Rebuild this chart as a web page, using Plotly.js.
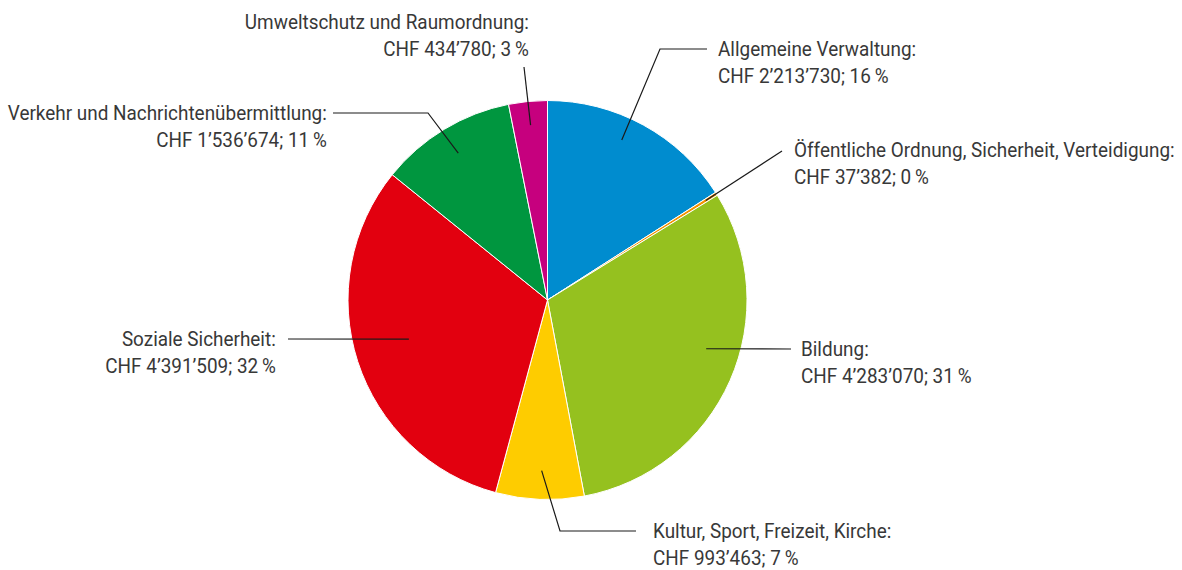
<!DOCTYPE html>
<html>
<head>
<meta charset="utf-8">
<script src="https://cdn.plot.ly/plotly-3.0.1.min.js"></script>
<style>
html, body { margin: 0; padding: 0; background: #ffffff; }
#chart { width: 1182px; height: 570px; }
</style>
</head>
<body>
<div id="chart"></div>
<script>
// ---- data ----
const categories = [
  "Allgemeine Verwaltung",
  "Öffentliche Ordnung, Sicherheit, Verteidigung",
  "Bildung",
  "Kultur, Sport, Freizeit, Kirche",
  "Soziale Sicherheit",
  "Verkehr und Nachrichtenübermittlung",
  "Umweltschutz und Raumordnung"
];
const values = [2213730, 37382, 4283070, 993463, 4391509, 1536674, 434780];
const currency = "CHF";
const sliceColors = ["#008ccf", "#f39200", "#95c11f", "#fecc00", "#e2000f", "#00963f", "#c6007e"];

// ---- label layout (pixel frame 1182 x 570) ----
// t: position along slice (0..1), f: fraction of radius for leader start
const labelLayout = [
  {t: 0.434, f: 0.884, bend: [660, 49],  end: [707, 49],  tx: 717, ty: 49,  side: "left"},
  {t: 0.5,   f: 0.937, bend: null,       end: [782, 151], tx: 793, ty: 150, side: "left"},
  {t: 0.439, f: 0.832, bend: null,       end: [791, 349], tx: 800, ty: 349, side: "left"},
  {t: 0.49,  f: 0.856, bend: [560, 531], end: [636, 531], tx: 652, ty: 531, side: "left"},
  {t: 0.52,  f: 0.722, bend: null,       end: [288, 339], tx: 277, ty: 339, side: "right"},
  {t: 0.497, f: 0.861, bend: [428, 113], end: [333, 113], tx: 328, ty: 113, side: "right"},
  {t: 0.51,  f: 0.881, bend: null,       end: [524, 67],  tx: 530, ty: 22,  side: "right"}
];

const W = 1182, H = 570;
const pieCx = 547.5, pieCy = 300, pieR = 199.5;
const lineGap = 27;
const textColor = "#383838";
const family = "Roboto";
const fontSize = 20.5;   // gives ~15px cap height like the reference

// ---- horizontal condensing factor so widths match the reference ----
const ctx = document.createElement("canvas").getContext("2d");
function measure(font, txt) { ctx.font = font; return ctx.measureText(txt).width; }
const widthTargets = [
  ["Öffentliche Ordnung, Sicherheit, Verteidigung:", 385],
  ["Verkehr und Nachrichtenübermittlung:", 318],
  ["Umweltschutz und Raumordnung:", 282],
  ["Kultur, Sport, Freizeit, Kirche:", 243],
  ["Allgemeine Verwaltung:", 199],
  ["Soziale Sicherheit:", 149]
];
const ratios = widthTargets.map(([s, w]) => w / measure(fontSize + 'px "' + family + '"', s)).sort((a, b) => a - b);
let squeeze = (ratios[2] + ratios[3]) / 2;
if (!isFinite(squeeze) || squeeze <= 0.5 || squeeze > 1.2) squeeze = 0.8;

// ---- helpers ----
const total = values.reduce((a, b) => a + b, 0);
function fmt(n) { return String(n).replace(/\B(?=(\d{3})+(?!\d))/g, "\u2019"); }
function px(x) { return x / W; }
function py(y) { return 1 - y / H; }

const shapes = [];
const annotations = [];
const annoSide = [];
let cum = 0;
values.forEach((v, i) => {
  const L = labelLayout[i];
  const theta = 2 * Math.PI * (cum + L.t * v) / total;
  cum += v;
  const sx = pieCx + L.f * pieR * Math.sin(theta);
  const sy = pieCy - L.f * pieR * Math.cos(theta);
  const pts = [[sx, sy]];
  if (L.bend) pts.push(L.bend);
  pts.push(L.end);
  const path = pts.map((p, k) => (k ? "L" : "M") + px(p[0]).toFixed(5) + "," + py(p[1]).toFixed(5)).join(" ");
  shapes.push({type: "path", xref: "paper", yref: "paper", path: path,
    line: {color: "#1a1a1a", width: 1.2}});
  const pct = Math.round(v / total * 100);
  const lines = [categories[i] + ":", currency + " " + fmt(v) + "; " + pct + "\u2009%"];
  lines.forEach((txt, k) => {
    annoSide.push(L.side);
    annotations.push({
      xref: "paper", yref: "paper",
      x: px(L.tx), y: py(L.ty + k * lineGap),
      xanchor: L.side, yanchor: "middle",
      align: L.side, showarrow: false, borderpad: 0,
      text: txt,
      font: {family: '"' + family + '", sans-serif', size: fontSize, color: textColor}
    });
  });
});

const data = [{
  type: "pie",
  labels: categories,
  values: values,
  sort: false,
  direction: "clockwise",
  rotation: 0,
  textinfo: "none",
  hoverinfo: "none",
  showlegend: false,
  marker: {colors: sliceColors, line: {color: "#ffffff", width: 1}},
  domain: {
    x: [px(pieCx - pieR), px(pieCx + pieR)],
    y: [py(pieCy + pieR), py(pieCy - pieR)]
  }
}];

const layout = {
  width: W, height: H,
  margin: {l: 0, r: 0, t: 0, b: 0},
  paper_bgcolor: "#ffffff",
  plot_bgcolor: "#ffffff",
  showlegend: false,
  shapes: shapes,
  annotations: annotations
};

Plotly.newPlot("chart", data, layout, {displayModeBar: false, staticPlot: true}).then(gd => {
  gd.querySelectorAll("g.annotation").forEach(g => {
    const idx = +g.getAttribute("data-index");
    const t = g.querySelector("text.annotation-text");
    if (!t) return;
    t.style.transformBox = "fill-box";
    t.style.transformOrigin = (annoSide[idx] === "right" ? "right" : "left") + " center";
    t.style.transform = "scaleX(" + squeeze.toFixed(4) + ")";
  });
});
</script>
</body>
</html>
